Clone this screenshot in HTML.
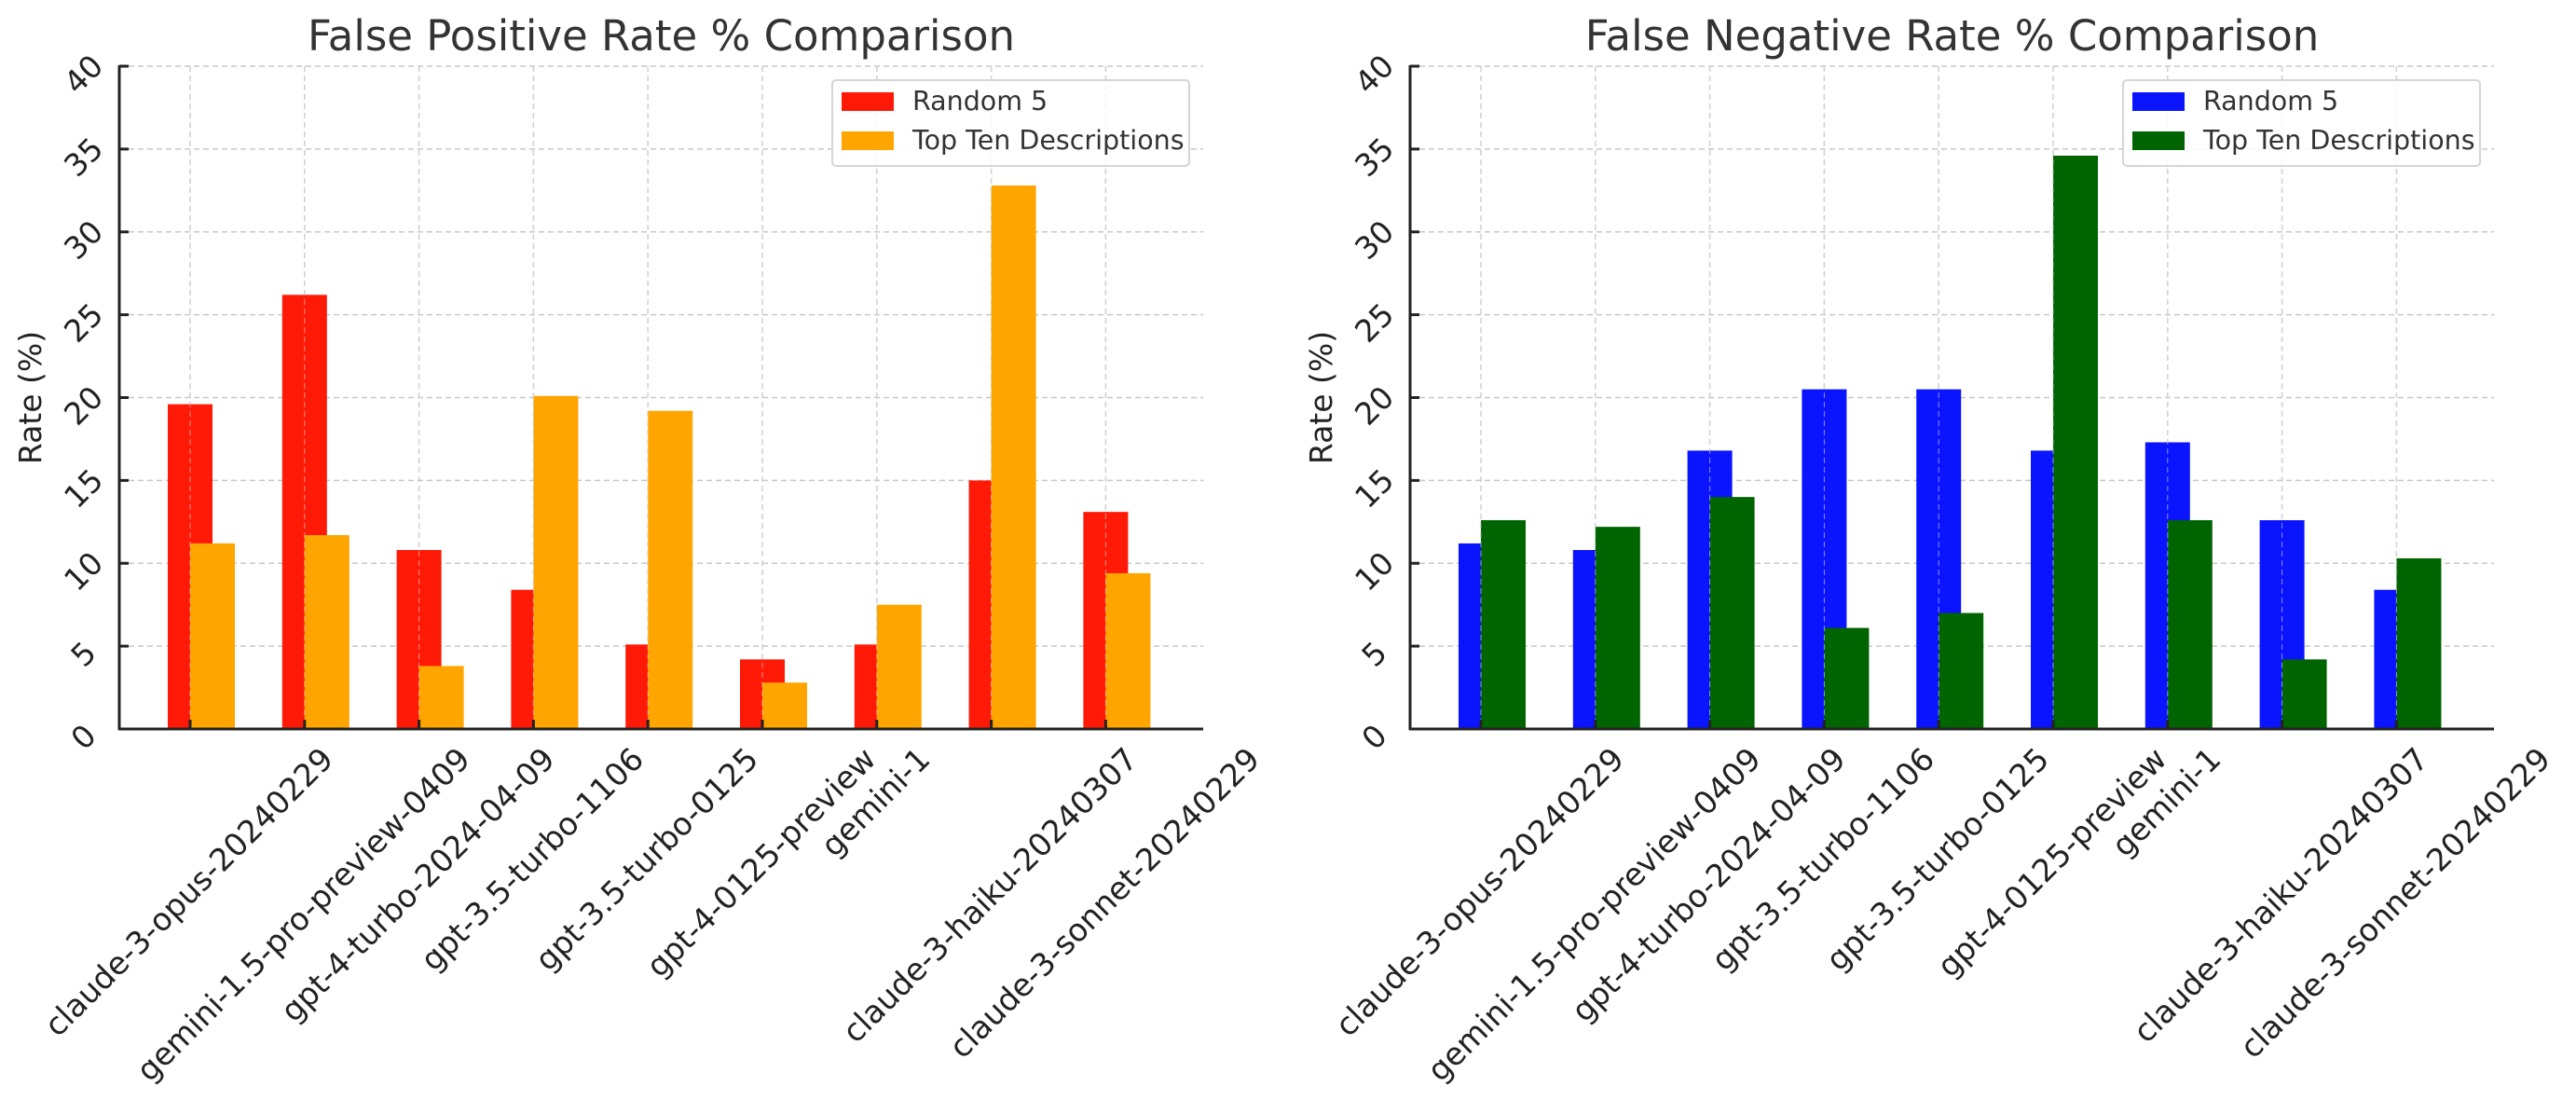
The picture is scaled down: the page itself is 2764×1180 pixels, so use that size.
<!DOCTYPE html>
<html><head><meta charset="utf-8"><style>
body{margin:0;background:#fff;}
svg{display:block;font-family:"DejaVu Sans","Liberation Sans",sans-serif;}
</style></head><body>
<svg id="chart" width="2764" height="1180" viewBox="0 0 2764 1180" xmlns="http://www.w3.org/2000/svg"></svg>
<script>
const categories = ["claude-3-opus-20240229","gemini-1.5-pro-preview-0409","gpt-4-turbo-2024-04-09","gpt-3.5-turbo-1106","gpt-3.5-turbo-0125","gpt-4-0125-preview","gemini-1","claude-3-haiku-20240307","claude-3-sonnet-20240229"];
const fpRandom5 = [19.6, 26.2, 10.8, 8.4, 5.1, 4.2, 5.1, 15.0, 13.1];
const fpTopTen = [11.2, 11.7, 3.8, 20.1, 19.2, 2.8, 7.5, 32.8, 9.4];
const fnRandom5 = [11.2, 10.8, 16.8, 20.5, 20.5, 16.8, 17.3, 12.6, 8.4];
const fnTopTen = [12.6, 12.2, 14.0, 6.1, 7.0, 34.6, 12.6, 4.2, 10.3];
const yTicks = [0, 5, 10, 15, 20, 25, 30, 35, 40];
const seriesNames = ["Random 5", "Top Ten Descriptions"];

const NS = "http://www.w3.org/2000/svg";
const svg = document.getElementById("chart");
function mk(tag, attrs, parent){
  const e = document.createElementNS(NS, tag);
  for (const k in attrs) e.setAttribute(k, attrs[k]);
  (parent||svg).appendChild(e);
  return e;
}

function drawChart(cfg){
  const g = mk("g", {});
  
  
  const L = cfg.left, R = cfg.right, T = 71, B = 782;
  const yMax = 40;
  const yScale = v => B - (v / yMax) * (B - T);
  const step = 122.8;
  const xScale = i => L + 76 + i * step;
  const bw = 48;

  const title = mk("text", {x:(L+R)/2, y:54, "text-anchor":"middle", "font-size":"45", fill:"#333"}, g);
  title.textContent = cfg.title;
  
  

  yTicks.forEach(t => {
    const ln = mk("line", {x1:L, x2:R, y1:yScale(t), y2:yScale(t), stroke:"#c8c8c8", "stroke-width":"1.5", "stroke-dasharray":"6,4"}, g);
    
    
  });
  categories.forEach((c, i) => {
    const ln = mk("line", {x1:xScale(i), x2:xScale(i), y1:T, y2:B, stroke:"#c8c8c8", "stroke-width":"1.5", "stroke-dasharray":"6,4"}, g);
    
    
  });

  cfg.s1.forEach((v, i) => {
    const r = mk("rect", {x:xScale(i)-bw/2, y:yScale(v), width:bw, height:B-yScale(v), fill:cfg.c1}, g);
    
    
  });
  cfg.s2.forEach((v, i) => {
    const r = mk("rect", {x:xScale(i), y:yScale(v), width:bw, height:B-yScale(v), fill:cfg.c2}, g);
    
    
  });
  categories.forEach((c, i) => {
    mk("line", {x1:xScale(i), x2:xScale(i), y1:T, y2:B, stroke:"#ddd", "stroke-width":"1", "stroke-dasharray":"6,4", opacity:"0.6"}, g);
  });

  const ya = mk("line", {x1:L, x2:L, y1:T-1, y2:B+1, stroke:"#222", "stroke-width":"3"}, g);
  
  
  const xa = mk("line", {x1:L-1, x2:R, y1:B, y2:B, stroke:"#222", "stroke-width":"3"}, g);
  
  

  yTicks.forEach(t => {
    const y = yScale(t);
    mk("line", {x1:L, x2:L+10, y1:y, y2:y, stroke:"#222", "stroke-width":"3"}, g);
    const tx = mk("text", {x:0, y:0, "text-anchor":"middle", "dominant-baseline":"middle", "font-size":"33", fill:"#222",
      transform:`translate(${L-37},${y+10}) rotate(-45)`}, g);
    tx.textContent = t;
    
    
  });
  categories.forEach((c, i) => {
    mk("line", {x1:xScale(i), x2:xScale(i), y1:B, y2:B-10, stroke:"#222", "stroke-width":"3"}, g);
    const tx = mk("text", {x:0, y:0, "text-anchor":"middle", "dominant-baseline":"middle", "font-size":"33.5", fill:"#222"}, g);
    tx.textContent = c;
    
    
    const len = tx.getComputedTextLength();
    const half = (len + 33) * 0.7071 / 2;
    tx.setAttribute("transform", `translate(${xScale(i)},${B + 16 + half}) rotate(-45)`);
  });

  const yl = mk("text", {x:0, y:0, "text-anchor":"middle", "font-size":"33", fill:"#222", transform:`translate(${L-84},${(T+B)/2}) rotate(-90)`}, g);
  yl.textContent = "Rate (%)";
  
  

  const lg = mk("g", {}, g);
  
  
  const lx = cfg.legendX;
  mk("rect", {x:lx, y:86, width:383, height:92, rx:4, fill:"#fff", "fill-opacity":"0.85", stroke:"#d5d5d5", "stroke-width":"2"}, lg);
  [cfg.c1, cfg.c2].forEach((col, k) => {
    const sw = mk("rect", {x:lx+10, y:99+k*42, width:56, height:20, fill:col}, lg);
    
    
    const t = mk("text", {x:lx+86, y:118+k*42, "font-size":"28.5", fill:"#333"}, lg);
    t.textContent = seriesNames[k];
    
    
  });
}

drawChart({name:"false-positive-chart", title:"False Positive Rate % Comparison", left:128, right:1291, s1:fpRandom5, s2:fpTopTen, c1:"#ff1a08", c2:"#ffa500", legendX:893});
drawChart({name:"false-negative-chart", title:"False Negative Rate % Comparison", left:1513, right:2676, s1:fnRandom5, s2:fnTopTen, c1:"#0a14ff", c2:"#006400", legendX:2278});
</script>
</body></html>
